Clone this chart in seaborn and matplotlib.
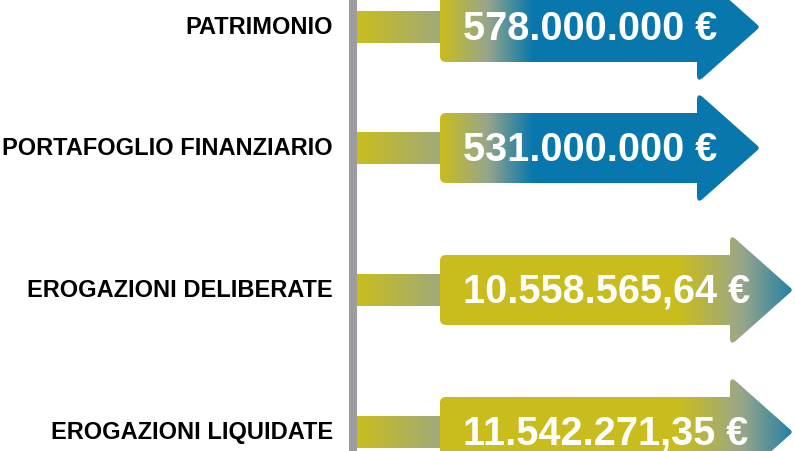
import numpy as np
import seaborn as sns
import matplotlib.pyplot as plt
from matplotlib.path import Path
from matplotlib.patches import PathPatch

labels = ["PATRIMONIO", "PORTAFOGLIO FINANZIARIO", "EROGAZIONI DELIBERATE", "EROGAZIONI LIQUIDATE"]
values = ["578.000.000 €", "531.000.000 €", "10.558.565,64 €", "11.542.271,35 €"]

# layout (pixel units, y downwards)
row_y = [28, 149, 291, 433]
head_x = [697, 697, 730, 730]
# where the yellow -> blue blend happens on each arrow
blend_from = [440, 440, 680, 680]
blend_to = [533, 533, 805, 805]

yellow = "#c9bd1d"
sage = "#98a68a"
blue = "#0877ad"
grey = "#9c9da1"


def rounded_path(pts, radii):
    verts, codes = [], []
    n = len(pts)
    for i in range(n):
        p = np.array(pts[i], float)
        prv = np.array(pts[i - 1], float)
        nxt = np.array(pts[(i + 1) % n], float)
        r = radii[i]
        first = Path.MOVETO if i == 0 else Path.LINETO
        if r == 0:
            verts.append(p)
            codes.append(first)
        else:
            a = p + (prv - p) / np.linalg.norm(prv - p) * r
            b = p + (nxt - p) / np.linalg.norm(nxt - p) * r
            verts += [a, p, b]
            codes += [first, Path.CURVE3, Path.CURVE3]
    verts.append(verts[0])
    codes.append(Path.CLOSEPOLY)
    return Path(verts, codes)


sns.set_theme(style="white")
plt.rcParams['font.family'] = ['Liberation Sans', 'DejaVu Sans']

cmap = sns.blend_palette([yellow, sage, blue], as_cmap=True)

fig = plt.figure(figsize=(7.95, 4.52), dpi=100)
ax = fig.add_axes([0, 0, 1, 1])
ax.axis("off")

xs = np.linspace(340, 800, 461)

for i in range(len(labels)):
    c = row_y[i]
    hx = head_x[i]
    tip = hx + 63

    # stem from the grey line to the arrow
    stem_grad = np.clip((xs - 357) / (440 - 357), 0, 1) * 0.42
    stem = PathPatch(rounded_path([(350, c - 16), (450, c - 16), (450, c + 16), (350, c + 16)],
                                  [0, 0, 0, 0]), fc="none", ec="none")
    ax.add_patch(stem)
    im = ax.imshow(stem_grad[None, :], cmap=cmap, vmin=0, vmax=1, aspect="auto",
                   extent=[340, 800, c + 60, c - 60], zorder=1, interpolation="bilinear")
    im.set_clip_path(stem)

    # arrow
    pts = [(440, c - 35), (hx, c - 35), (hx, c - 56), (tip, c),
           (hx, c + 56), (hx, c + 35), (440, c + 35)]
    arrow = PathPatch(rounded_path(pts, [6, 0, 8, 3, 8, 0, 6]), fc="none", ec="none")
    ax.add_patch(arrow)
    grad = np.clip((xs - blend_from[i]) / (blend_to[i] - blend_from[i]), 0, 1)
    im = ax.imshow(grad[None, :], cmap=cmap, vmin=0, vmax=1, aspect="auto",
                   extent=[340, 800, c + 60, c - 60], zorder=2, interpolation="bilinear")
    im.set_clip_path(arrow)

    ax.text(463, c + 1, values[i], color="white", fontsize=28.5, fontweight="bold",
            ha="left", va="center", zorder=3)
    ax.text(333, c, labels[i], color="black", fontsize=17, fontweight="bold",
            ha="right", va="center", zorder=3)

ax.axvline(353, color=grey, lw=5.8, zorder=4)

ax.set_xlim(0, 795)
ax.set_ylim(452, 0)
fig.savefig("out.png", dpi=100)
